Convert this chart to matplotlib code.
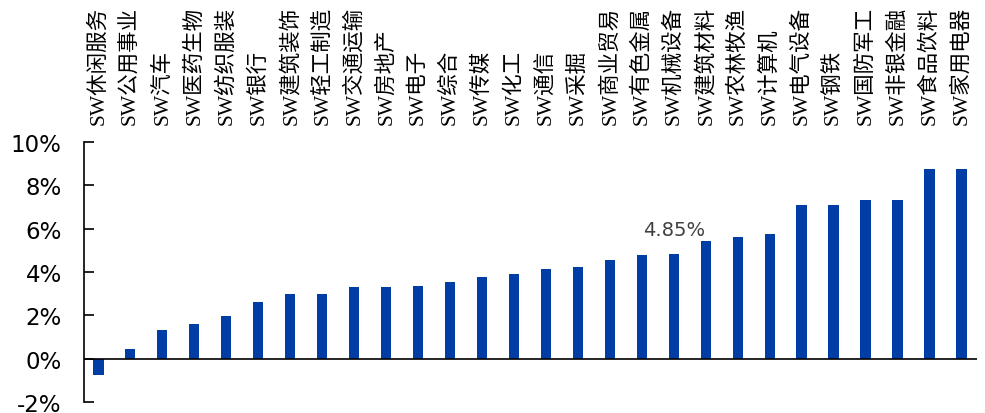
import matplotlib
matplotlib.use('Agg')
import matplotlib.pyplot as plt
from matplotlib.ticker import FuncFormatter

plt.rcParams['font.family'] = ['DejaVu Sans']

# industries, sorted by weekly return
industries = ['SW休闲服务', 'SW公用事业', 'SW汽车', 'SW医药生物', 'SW纺织服装', 'SW银行',
              'SW建筑装饰', 'SW轻工制造', 'SW交通运输', 'SW房地产', 'SW电子', 'SW综合',
              'SW传媒', 'SW化工', 'SW通信', 'SW采掘', 'SW商业贸易', 'SW有色金属',
              'SW机械设备', 'SW建筑材料', 'SW农林牧渔', 'SW计算机', 'SW电气设备', 'SW钢铁',
              'SW国防军工', 'SW非银金融', 'SW食品饮料', 'SW家用电器']
returns = [-0.75, 0.45, 1.3, 1.6, 1.95, 2.6, 3.0, 3.0, 3.3, 3.3, 3.35, 3.55, 3.75, 3.9,
           4.15, 4.25, 4.55, 4.8, 4.85, 5.45, 5.6, 5.75, 7.1, 7.1, 7.3, 7.3, 8.75, 8.75]
highlight = 'SW机械设备'
yticks = [-2, 0, 2, 4, 6, 8, 10]

fig = plt.figure(figsize=(9.85, 4.14), dpi=100)
ax = fig.add_axes([0.0853, 0.0266, 0.907, 0.628])

x = range(len(industries))
ax.bar(x, returns, width=0.32, color='#003DA5', zorder=2)
ax.axhline(0, color='black', linewidth=1.2, zorder=3)

# label for the highlighted industry
i = industries.index(highlight)
ax.text(i, returns[i] + 1.13, f'{returns[i]:.2f}%', ha='center', va='center',
        fontsize=14, color='#404040')

ax.set_xlim(-0.45, len(industries) - 0.5)
ax.set_ylim(-2, 10)
ax.set_yticks(yticks)
ax.yaxis.set_major_formatter(FuncFormatter(lambda v, _: f'{v:.0f}%'))
ax.tick_params(axis='y', direction='in', length=7, width=1.2, labelsize=16.5, pad=16)

ax.xaxis.tick_top()
ax.set_xticks(list(x))
ax.set_xticklabels(industries, rotation=90, fontsize=15.5,
                   family=['Liberation Serif', 'Noto Sans CJK SC'])
ax.tick_params(axis='x', length=0, pad=13)

for side in ['top', 'right', 'bottom']:
    ax.spines[side].set_visible(False)
ax.spines['left'].set_linewidth(1.2)

fig.savefig('out.png', dpi=100)
